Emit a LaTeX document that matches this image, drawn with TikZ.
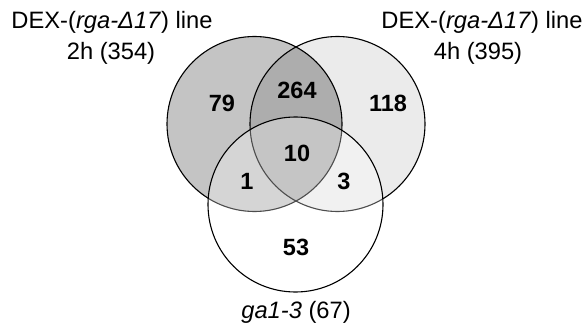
\documentclass[tikz,border=0pt]{standalone}
\usepackage{fontspec}
\setmainfont{Liberation Sans}
\definecolor{setA}{HTML}{C4C4C4}
\definecolor{setB}{HTML}{EBEBEB}
\definecolor{setAB}{HTML}{ADADAD}
\begin{document}
\begin{tikzpicture}[x=1pt,y=-1pt,
  lbl/.style={anchor=base,inner sep=0pt,font=\fontsize{23.7}{30}\selectfont},
  num/.style={anchor=center,inner sep=0pt,font=\fontsize{23.5}{28}\selectfont\bfseries},
  ring/.style={draw=black,line width=1.1pt}]
\useasboundingbox (0,0) rectangle (586,326);
% set centres and radius
\def\R{87.5}
\coordinate (cA) at (254.5,124);
\coordinate (cB) at (337.5,124);
\coordinate (cC) at (295.5,204.5);
% fills of the two DEX sets and their overlap
\fill[setA] (cA) circle (\R);
\fill[setB] (cB) circle (\R);
\begin{scope}
  \clip (cA) circle (\R);
  \fill[setAB] (cB) circle (\R);
\end{scope}
\draw[ring] (cA) circle (\R);
\draw[ring] (cB) circle (\R);
% ga1-3 set: translucent white over the others
\fill[white,opacity=0.3] (cC) circle (\R);
\draw[ring] (cC) circle (\R);
% set labels
\node[lbl] (lA1) at (112,29) {DEX-(\textit{rga-Δ17}) line};
\node[lbl] (lA2) at (111,60) {2h (354)};
\node[lbl] (lB1) at (482,29) {DEX-(\textit{rga-Δ17}) line};
\node[lbl] (lB2) at (478,60) {4h (395)};
\node[lbl] (lC) at (296,318) {\textit{ga1-3} (67)};
% region counts
\node[num] (nA) at (222,103) {79};
\node[num] (nAB) at (297,90) {264};
\node[num] (nB) at (388,103) {118};
\node[num] (nABC) at (297,153) {10};
\node[num] (nAC) at (247,181) {1};
\node[num] (nBC) at (344,181) {3};
\node[num] (nC) at (296,247) {53};
\end{tikzpicture}
\end{document}
